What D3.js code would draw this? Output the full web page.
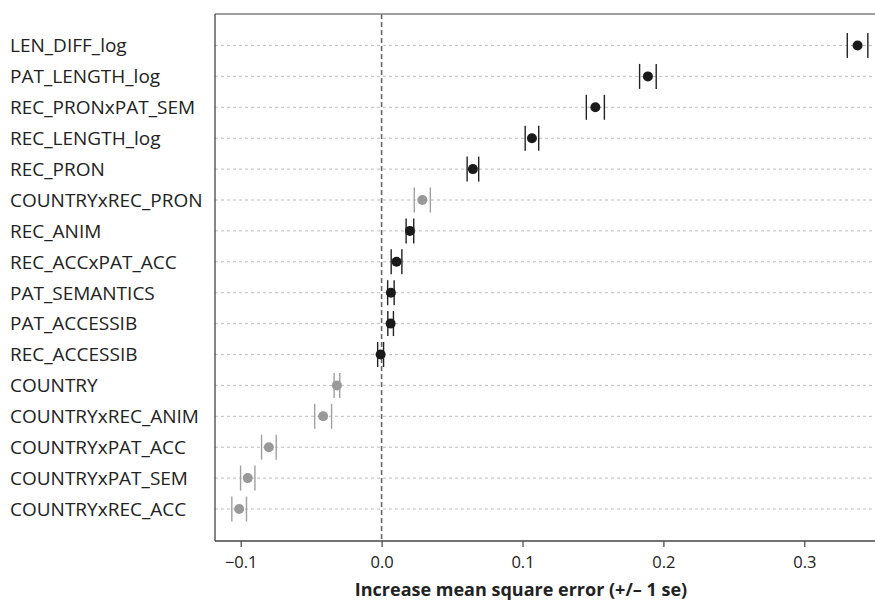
<!DOCTYPE html>
<html>
<head>
<meta charset="utf-8">
<script src="https://cdn.jsdelivr.net/npm/d3@7"></script>
<style>
body { margin: 0; background: #fff; }
svg { display: block; font-family: "Open Sans", "Noto Sans", sans-serif; }
</style>
</head>
<body>
<div id="chart"></div>
<script>
// predictors, top to bottom
let predictors = ["LEN_DIFF_log", "PAT_LENGTH_log", "REC_PRONxPAT_SEM", "REC_LENGTH_log", "REC_PRON",
	"COUNTRYxREC_PRON", "REC_ANIM", "REC_ACCxPAT_ACC", "PAT_SEMANTICS", "PAT_ACCESSIB",
	"REC_ACCESSIB", "COUNTRY", "COUNTRYxREC_ANIM", "COUNTRYxPAT_ACC", "COUNTRYxPAT_SEM", "COUNTRYxREC_ACC"];

// increase in mean square error
let msePlus = [0.3378, 0.189, 0.1517, 0.1067, 0.0648,
	0.0289, 0.0201, 0.0106, 0.0066, 0.0064,
	-0.0007, -0.0317, -0.0415, -0.080, -0.095, -0.1011];

// standard error
let seValues = [0.0073, 0.0059, 0.0064, 0.0048, 0.0041,
	0.0057, 0.0027, 0.0038, 0.0023, 0.002,
	0.0021, 0.002, 0.006, 0.0052, 0.0051, 0.0052];

// country-related terms drawn in grey
let isCountry = [false, false, false, false, false,
	true, false, false, false, false,
	false, true, true, true, true, true];

let xTicks = [-0.1, 0.0, 0.1, 0.2, 0.3];

let data = predictors.map((p, i) => ({name: p, mse: msePlus[i], se: seValues[i], country: isCountry[i]}));

let width = 875, height = 600;
let plot = {left: 215, top: 14, bottom: 541, right: 880};

let svg = d3.select("#chart").append("svg")
	.attr("width", width)
	.attr("height", height);

const xScale = d3.scaleLinear()
	.domain([-0.1, 0.3])
	.range([240.7, 804.3]);

const yScale = d3.scalePoint()
	.domain(predictors)
	.range([45.5, 509]);

//grid lines
svg.append("g")
	.selectAll("line")
	.data(predictors)
	.join("line")
	.attr("x1", plot.left)
	.attr("x2", plot.right)
	.attr("y1", d => yScale(d))
	.attr("y2", d => yScale(d))
	.attr("stroke", "#bdbdbd")
	.attr("stroke-width", 1)
	.attr("stroke-dasharray", "3,3");

//zero line
svg.append("line")
	.attr("x1", xScale(0))
	.attr("x2", xScale(0))
	.attr("y1", plot.top)
	.attr("y2", plot.bottom)
	.attr("stroke", "#666")
	.attr("stroke-width", 1.6)
	.attr("stroke-dasharray", "5,3");

//frame
svg.append("line")
	.attr("x1", plot.left).attr("x2", plot.right)
	.attr("y1", plot.top).attr("y2", plot.top)
	.attr("stroke", "#808080").attr("stroke-width", 1.6);
svg.append("line")
	.attr("x1", plot.left).attr("x2", plot.left)
	.attr("y1", plot.top).attr("y2", plot.bottom)
	.attr("stroke", "#444").attr("stroke-width", 1.3);

//x axis
const xAxis = d3.axisBottom(xScale)
	.tickValues(xTicks)
	.tickSizeOuter(0)
	.tickSize(6)
	.tickPadding(9)
	.tickFormat(d => d3.format(".1f")(d).replace("-", "\u2212"));

let gx = svg.append("g")
	.attr("transform", `translate(0,${plot.bottom})`)
	.call(xAxis);
gx.select(".domain").remove();
gx.append("line")
	.attr("x1", plot.left).attr("x2", plot.right)
	.attr("stroke", "#444").attr("stroke-width", 1.3);
gx.selectAll(".tick line").attr("stroke", "#444").attr("stroke-width", 1.2);
gx.selectAll(".tick text")
	.attr("fill", "#222")
	.style("font-size", "16.5px")
	.style("font-family", "'Open Sans', sans-serif");

//axis title
svg.append("text")
	.attr("x", 521)
	.attr("y", 596)
	.attr("text-anchor", "middle")
	.attr("fill", "#222")
	.style("font-size", "18px")
	.style("font-weight", "bold")
	.text("Increase mean square error (+/\u2013 1 se)");

//labels
svg.append("g")
	.selectAll("text")
	.data(data)
	.join("text")
	.attr("x", 10)
	.attr("y", d => yScale(d.name))
	.attr("dy", "0.36em")
	.attr("fill", "#222")
	.style("font-size", "19px")
	.text(d => d.name);

//error bars
let bars = svg.append("g")
	.selectAll("g")
	.data(data)
	.join("g");

bars.selectAll("line")
	.data(d => [d.mse - d.se, d.mse + d.se].map(v => ({v: v, d: d})))
	.join("line")
	.attr("x1", e => xScale(e.v))
	.attr("x2", e => xScale(e.v))
	.attr("y1", e => yScale(e.d.name) - 12.5)
	.attr("y2", e => yScale(e.d.name) + 12.5)
	.attr("stroke", e => e.d.country ? "#a0a0a0" : "#222")
	.attr("stroke-width", 1.4);

//points
svg.append("g")
	.selectAll("circle")
	.data(data)
	.join("circle")
	.attr("cx", d => xScale(d.mse))
	.attr("cy", d => yScale(d.name))
	.attr("r", 5)
	.attr("fill", d => d.country ? "#999" : "#1a1a1a");
</script>
</body>
</html>
